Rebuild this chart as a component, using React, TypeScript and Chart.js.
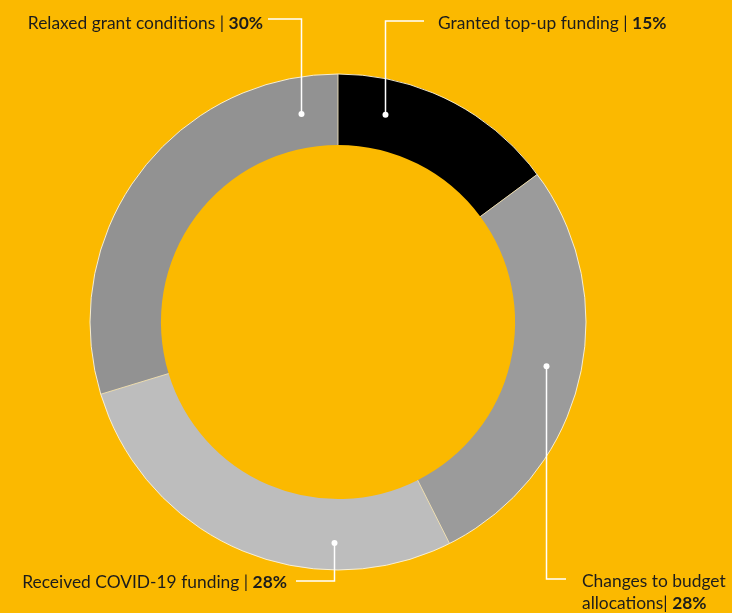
import React, { useEffect, useRef } from "react";
import { Chart, registerables } from "chart.js";

Chart.register(...registerables);

const categories = [
  "Granted top-up funding",
  "Changes to budget allocations",
  "Received COVID-19 funding",
  "Relaxed grant conditions",
];
const values = [15, 28, 28, 30];
const percentLabels = ["15%", "28%", "28%", "30%"];
const segmentColors = ["#000000", "#9b9b9b", "#bdbdbd", "#929292"];

const BG = "#FBB900";
const FONT = "Lato, sans-serif";
const SIZE = 17.4;

// Annotation layout (style only): angle of the anchor dot (deg clockwise from top),
// end of the vertical leader, end of the horizontal leader, and text placement.
const annotations = [
  { dotAngle: 12.7, dotR: 0.5, lineY: 21, lineX: 424, textX: 438, textY: 29, align: "left", lines: [["Granted top-up funding | ", "15%"]] },
  { dotAngle: 102, dotR: 0.5, lineY: 579, lineX: 566, textX: 582, textY: 587, align: "left", lines: [["Changes to budget", ""], ["allocations| ", "28%"]] },
  { dotAngle: 181, dotR: 0.62, lineY: 581, lineX: 296, textX: 287, textY: 588, align: "right", lines: [["Received COVID-19 funding | ", "28%"]] },
  { dotAngle: 350, dotR: 0.48, lineY: 19, lineX: 268, textX: 263, textY: 29, align: "right", lines: [["Relaxed grant conditions | ", "30%"]] },
];

const decorPlugin = {
  id: "decor",
  beforeDraw(chart: any) {
    const ctx = chart.ctx;
    ctx.save();
    ctx.fillStyle = BG;
    ctx.fillRect(0, 0, chart.width, chart.height);
    ctx.restore();
  },
  afterDatasetsDraw(chart: any) {
    const ctx = chart.ctx;
    const meta = chart.getDatasetMeta(0);
    const arcs = meta.data;
    if (!arcs.length) return;
    const a0 = arcs[0].getProps(["x", "y", "outerRadius", "innerRadius"], true);
    const cx = a0.x, cy = a0.y, R = a0.outerRadius, r = a0.innerRadius;

    ctx.save();
    ctx.strokeStyle = "rgba(255,245,215,0.9)";
    ctx.lineWidth = 1;
    ctx.beginPath();
    ctx.arc(cx, cy, R, 0, Math.PI * 2);
    ctx.stroke();
    ctx.strokeStyle = "rgba(240,225,185,0.9)";
    arcs.forEach((arc: any) => {
      const p = arc.getProps(["startAngle"], true);
      const a = p.startAngle;
      ctx.beginPath();
      ctx.moveTo(cx + r * Math.cos(a), cy + r * Math.sin(a));
      ctx.lineTo(cx + R * Math.cos(a), cy + R * Math.sin(a));
      ctx.stroke();
    });

    annotations.forEach((an) => {
      const ang = (an.dotAngle * Math.PI) / 180;
      const rad = r + (R - r) * an.dotR;
      const dx = Math.round(cx + rad * Math.sin(ang)) + 0.5;
      const dy = cy - rad * Math.cos(ang);
      ctx.strokeStyle = "#ffffff";
      ctx.lineWidth = 1.5;
      ctx.beginPath();
      ctx.moveTo(dx, dy);
      ctx.lineTo(dx, an.lineY);
      ctx.lineTo(an.lineX, an.lineY);
      ctx.stroke();
      ctx.fillStyle = "#ffffff";
      ctx.beginPath();
      ctx.arc(dx, dy, 3, 0, Math.PI * 2);
      ctx.fill();

      ctx.textBaseline = "alphabetic";
      ctx.fillStyle = "#1c1c1c";
      an.lines.forEach((ln, i) => {
        const y = an.textY + i * 22;
        ctx.font = `400 ${SIZE}px ${FONT}`;
        const w1 = ctx.measureText(ln[0]).width;
        ctx.font = `700 ${SIZE}px ${FONT}`;
        const w2 = ctx.measureText(ln[1]).width;
        const x0 = an.align === "left" ? an.textX : an.textX - w1 - w2;
        ctx.textAlign = "left";
        ctx.font = `400 ${SIZE}px ${FONT}`;
        ctx.fillText(ln[0], x0, y);
        ctx.font = `700 ${SIZE}px ${FONT}`;
        ctx.fillText(ln[1], x0 + w1, y);
      });
    });
    ctx.restore();
  },
};

export default function App() {
  const ref = useRef<HTMLCanvasElement>(null);
  useEffect(() => {
    if (!ref.current) return;
    const chart = new Chart(ref.current, {
      type: "doughnut",
      data: {
        labels: categories.map((c, i) => `${c} | ${percentLabels[i]}`),
        datasets: [
          {
            data: values,
            backgroundColor: segmentColors,
            borderWidth: 0,
          },
        ],
      },
      options: {
        animation: false,
        responsive: false,
        maintainAspectRatio: false,
        cutout: "71.4%",
        layout: { padding: { left: 90, right: 146, top: 74, bottom: 43 } },
        plugins: {
          legend: { display: false },
          tooltip: { enabled: false },
        },
      },
      plugins: [decorPlugin],
    });
    return () => chart.destroy();
  }, []);
  return (
    <div style={{ position: "fixed", left: 0, top: 0, width: 732, height: 613, background: BG }}>
      <canvas ref={ref} width={732} height={613} style={{ width: 732, height: 613, display: "block" }} />
    </div>
  );
}
